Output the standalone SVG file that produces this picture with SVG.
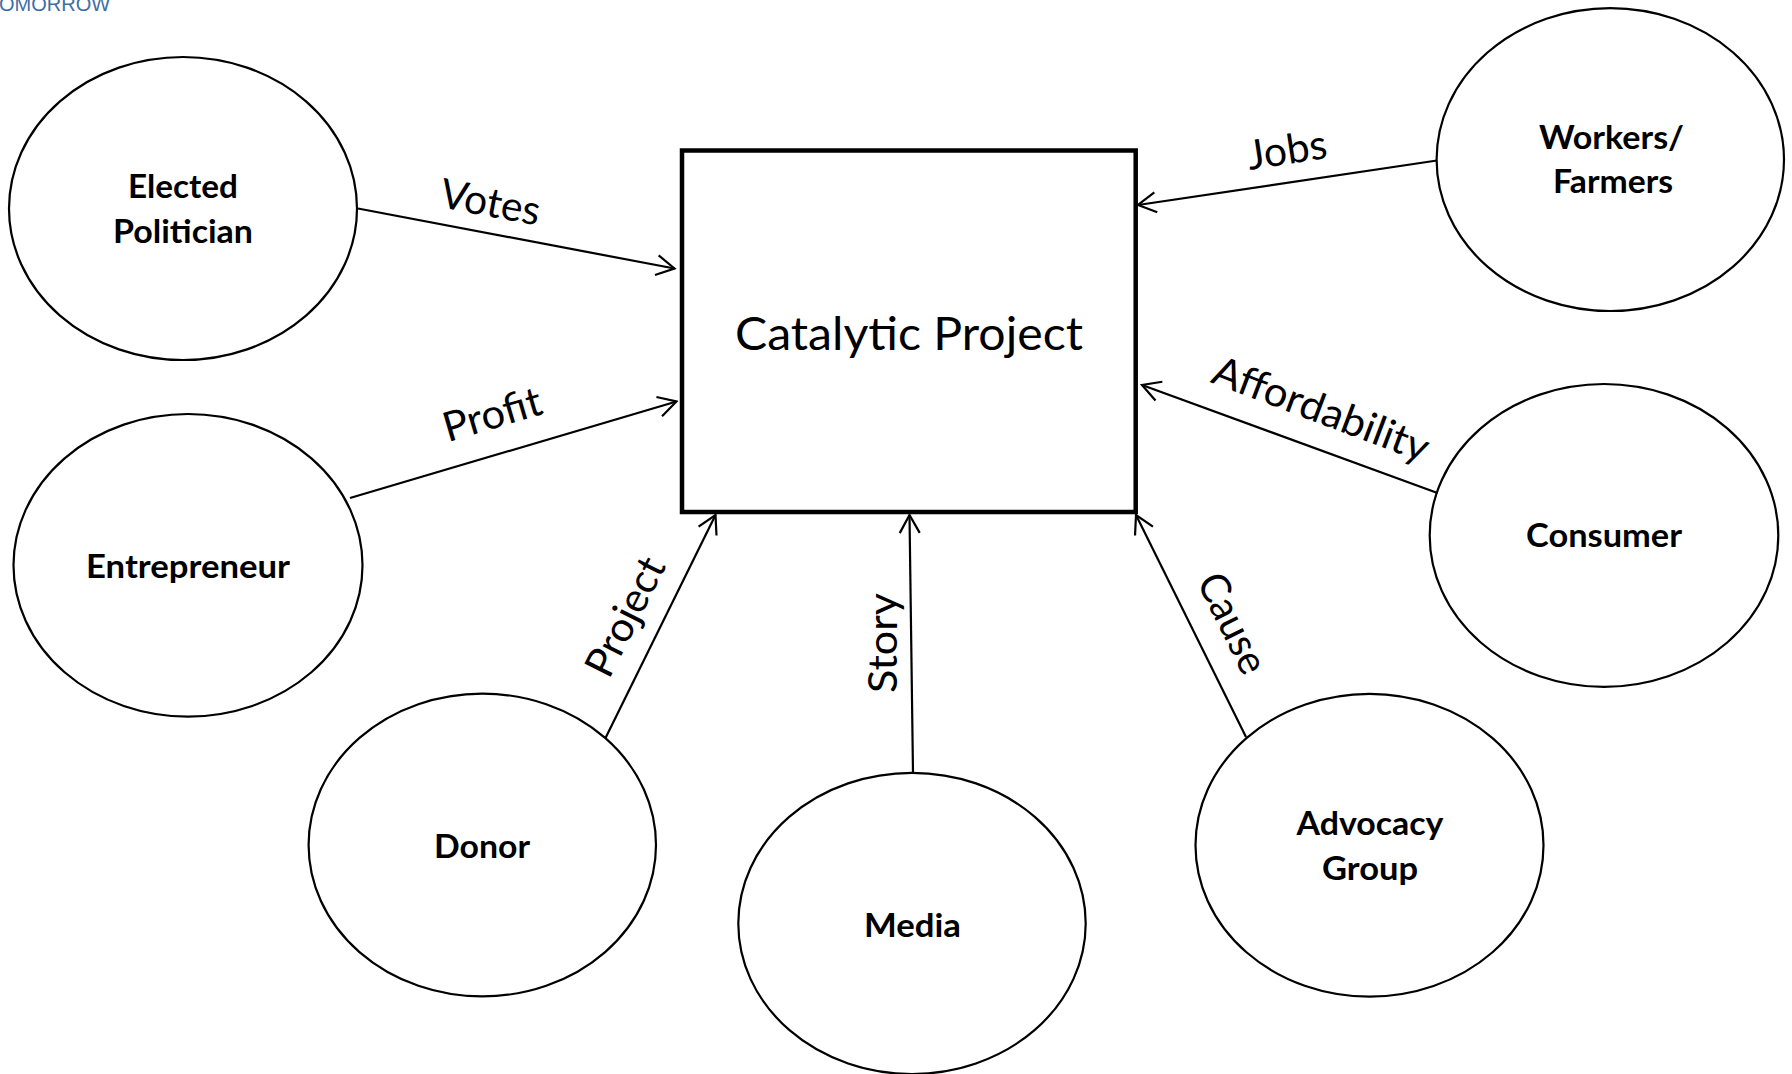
<svg xmlns="http://www.w3.org/2000/svg" width="1792" height="1074" viewBox="0 0 1792 1074">
<style>
  .bg { fill: #ffffff; }
  .node ellipse { fill: #ffffff; stroke: #000000; stroke-width: 2.2; }
  .lbl { font-family: Lato, "Open Sans", "Liberation Sans", sans-serif; font-weight: bold; font-size: 32px; fill: #000000; text-anchor: middle; }
  .edges line { stroke: #000000; stroke-width: 2.2; fill: none; marker-end: url(#arrow); }
  .elbl { font-family: Lato, "Open Sans", "Liberation Sans", sans-serif; font-size: 41px; fill: #000000; text-anchor: middle; }
  .center rect { fill: #ffffff; stroke: #000000; stroke-width: 4.5; }
  .ctext { font-family: Lato, "Open Sans", "Liberation Sans", sans-serif; font-size: 47px; fill: #000000; text-anchor: middle; }
  .hdr { font-family: "Liberation Sans", Arial, sans-serif; font-size: 20px; fill: #3f6ea6; }
</style>
<defs>
  <marker id="arrow" markerUnits="userSpaceOnUse" viewBox="-20 -12 22 24" refX="0" refY="0" markerWidth="22" markerHeight="24" orient="auto">
    <path d="M-18,-10 L0,0 L-18,10" fill="none" stroke="#000000" stroke-width="2.2"/>
  </marker>
</defs>
<rect class="bg" x="0" y="0" width="1792" height="1074"/>
<text class="hdr" x="-1" y="11">OMORROW</text>

<g id="catalytic-project" class="center">
  <rect x="682" y="150.5" width="453.7" height="361.5"/>
  <text class="ctext" x="909" y="350" textLength="348" lengthAdjust="spacingAndGlyphs">Catalytic Project</text>
</g>

<g id="elected-politician" class="node">
  <ellipse cx="183" cy="208.5" rx="174" ry="151.5"/>
  <text class="lbl" x="183" y="198" textLength="110" lengthAdjust="spacingAndGlyphs">Elected</text>
  <text class="lbl" x="183" y="243" textLength="140" lengthAdjust="spacingAndGlyphs">Politician</text>
</g>

<g id="entrepreneur" class="node">
  <ellipse cx="188" cy="565.3" rx="174.5" ry="151.3"/>
  <text class="lbl" x="188" y="578" textLength="204" lengthAdjust="spacingAndGlyphs">Entrepreneur</text>
</g>

<g id="donor" class="node">
  <ellipse cx="482.3" cy="845" rx="173.7" ry="151.4"/>
  <text class="lbl" x="482" y="858" textLength="96" lengthAdjust="spacingAndGlyphs">Donor</text>
</g>

<g id="media" class="node">
  <ellipse cx="912" cy="923.4" rx="173.7" ry="150.6"/>
  <text class="lbl" x="912.5" y="937" textLength="97" lengthAdjust="spacingAndGlyphs">Media</text>
</g>

<g id="advocacy-group" class="node">
  <ellipse cx="1369.5" cy="845.2" rx="174" ry="151.4"/>
  <text class="lbl" x="1370" y="835" textLength="147" lengthAdjust="spacingAndGlyphs">Advocacy</text>
  <text class="lbl" x="1370" y="880" textLength="96" lengthAdjust="spacingAndGlyphs">Group</text>
</g>

<g id="consumer" class="node">
  <ellipse cx="1604" cy="535.4" rx="174.3" ry="151.4"/>
  <text class="lbl" x="1604" y="547" textLength="156" lengthAdjust="spacingAndGlyphs">Consumer</text>
</g>

<g id="workers-farmers" class="node">
  <ellipse cx="1610.3" cy="159.6" rx="173.7" ry="151.4"/>
  <text class="lbl" x="1611.5" y="149" textLength="145" lengthAdjust="spacingAndGlyphs">Workers/</text>
  <text class="lbl" x="1613" y="193" textLength="120" lengthAdjust="spacingAndGlyphs">Farmers</text>
</g>

<g id="connectors" class="edges">
  <line x1="358" y1="208.5" x2="674.5" y2="268.5"/>
  <line x1="350" y1="498" x2="676.5" y2="401.5"/>
  <line x1="1437" y1="160.5" x2="1138" y2="205"/>
  <line x1="1437.5" y1="493" x2="1142" y2="385"/>
  <line x1="1246" y1="737" x2="1136" y2="515"/>
  <line x1="605.5" y1="738" x2="715.5" y2="515"/>
  <line x1="913" y1="773" x2="909.5" y2="515"/>
</g>

<g id="connector-labels">
  <text class="elbl" transform="translate(490.5,202) rotate(10.7)" x="0" y="14.5" textLength="101" lengthAdjust="spacingAndGlyphs">Votes</text>
  <text class="elbl" transform="translate(492,414) rotate(-16.4)" x="0" y="14.5" textLength="101" lengthAdjust="spacingAndGlyphs">Profit</text>
  <text class="elbl" transform="translate(1287,150) rotate(-8.7)" x="0" y="14" textLength="80" lengthAdjust="spacingAndGlyphs">Jobs</text>
  <text class="elbl" transform="translate(1320,412) rotate(20.7)" x="0" y="11" textLength="228" lengthAdjust="spacingAndGlyphs">Affordability</text>
  <text class="elbl" transform="translate(1233,623) rotate(63.7)" x="0" y="14.5" textLength="107" lengthAdjust="spacingAndGlyphs">Cause</text>
  <text class="elbl" transform="translate(628,618) rotate(-63.3)" x="0" y="11" textLength="128" lengthAdjust="spacingAndGlyphs">Project</text>
  <text class="elbl" transform="translate(886,643) rotate(-90)" x="0" y="11" textLength="100" lengthAdjust="spacingAndGlyphs">Story</text>
</g>
</svg>
